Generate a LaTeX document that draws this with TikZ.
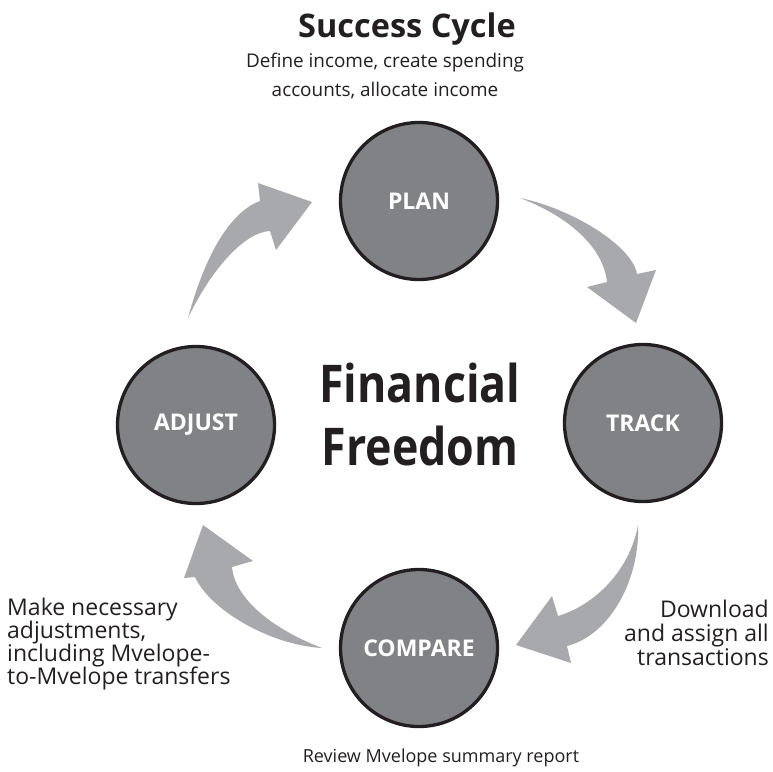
\documentclass[tikz,border=0pt]{standalone}
\usepackage{fontspec}
\setmainfont{Open Sans}
\newfontfamily\ffnarrow[FakeStretch=0.86]{Open Sans}
\definecolor{arrowgray}{HTML}{A7A9AC}
\definecolor{circgray}{HTML}{808285}
\definecolor{ink}{HTML}{231F20}
\begin{document}
\begin{tikzpicture}[x=1pt,y=-1pt,
  stage/.style={circle, draw=ink, line width=3.3pt, fill=circgray, minimum size=157pt,
    inner sep=0pt, text=white, font=\bfseries\fontsize{23}{23}\selectfont},
  note/.style={text=ink, inner sep=0pt, font=\fontsize{23}{23}\selectfont},
  caption/.style={text=ink, inner sep=0pt, font=\fontsize{18.9}{23}\selectfont},
  big/.style={text=ink, inner sep=0pt, anchor=base, font=\ffnarrow\bfseries\fontsize{52}{52}\selectfont},
  flow/.style={fill=arrowgray, draw=none}]
\useasboundingbox (0,0) rectangle (773,771);

% stages
\node[stage] (plan)    at (419,201) {PLAN};
\node[stage] (track)   at (643,423) {TRACK};
\node[stage] (adjust)  at (196,425) {ADJUST};
\node[stage] (compare) at (419,648) {COMPARE};

% curved arrows
\coordinate (a1t) at (520,198);
\fill[flow] (a1t) .. controls (570,208) and (632,245) .. (637,274) -- (656,270) -- (636,323)
  -- (587,287) -- (607,282) .. controls (603,245) and (565,215) .. (a1t) -- cycle;
\coordinate (a2t) at (188,318);
\fill[flow] (a2t) .. controls (205,255) and (230,212) .. (260,201) -- (258,183) -- (312,202)
  -- (276,250) -- (270,231) .. controls (245,232) and (212,268) .. (a2t) -- cycle;
\coordinate (a3t) at (638,525);
\fill[flow] (a3t) .. controls (640,580) and (610,635) .. (567,646) -- (571,663) -- (516,645)
  -- (552,596) -- (558,616) .. controls (595,605) and (630,570) .. (a3t) -- cycle;
\coordinate (a4t) at (322,648);
\fill[flow] (a4t) .. controls (270,645) and (210,610) .. (195,577) -- (184,578) -- (203,525)
  -- (253,561) -- (232,567) .. controls (235,600) and (275,630) .. (a4t) -- cycle;

% texts
\node[text=ink, inner sep=0pt, anchor=base, font=\bfseries\fontsize{32.5}{32.5}\selectfont] (title) at (407,37) {Success Cycle};
\node[caption, anchor=base] (pn1) at (385,67) {Define income, create spending};
\node[caption, anchor=base] (pn2) at (385,96) {accounts, allocate income};

\node[big] (ff1) at (420,402) {Financial};
\node[big] (ff2) at (420,465) {Freedom};

\node[note, anchor=base east] (tn1) at (769,617) {Download};
\node[note, anchor=base east] (tn2) at (769,641) {and assign all};
\node[note, anchor=base east] (tn3) at (769,665) {transactions};

\node[note, anchor=base west] (an1) at (7,615) {Make necessary};
\node[note, anchor=base west] (an2) at (7,638) {adjustments,};
\node[note, anchor=base west] (an3) at (7,661) {including Mvelope-};
\node[note, anchor=base west] (an4) at (7,684) {to-Mvelope transfers};

\node[caption, anchor=base, font=\fontsize{18}{23}\selectfont] (cn1) at (441,762) {Review Mvelope summary report};
\end{tikzpicture}
\end{document}
